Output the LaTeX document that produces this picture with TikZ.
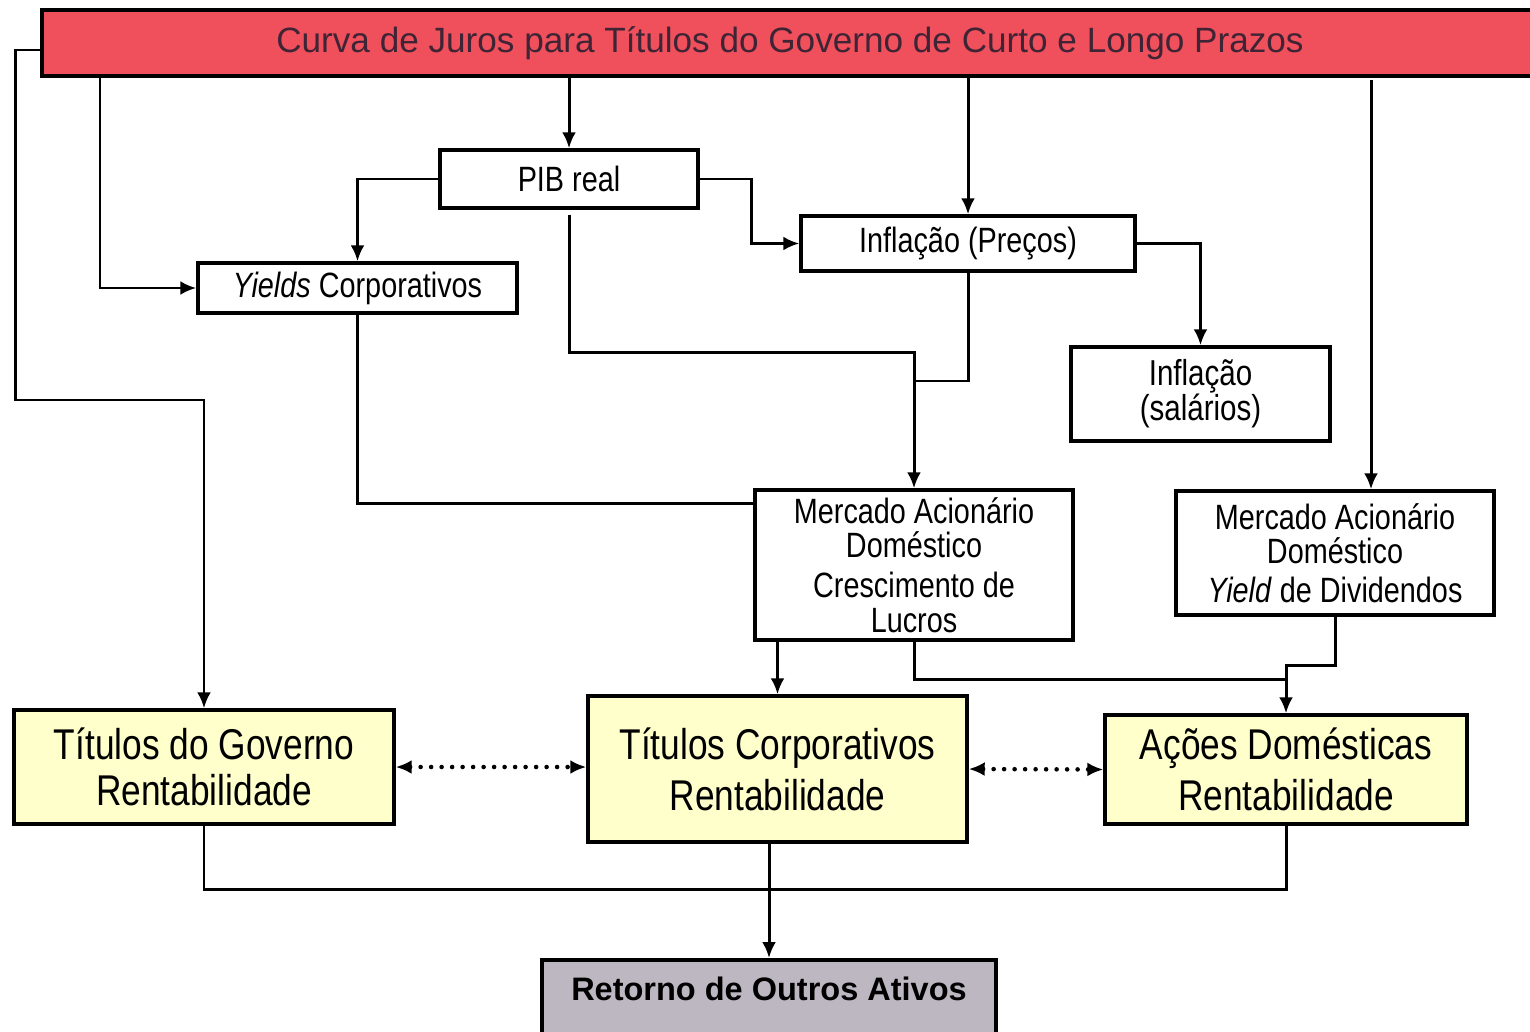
\documentclass[tikz,border=0pt]{standalone}
\usepackage{fontspec}
\setmainfont{Liberation Sans}
\newfontfamily\narrowfont[FakeStretch=0.82]{Liberation Sans}
\usepackage{tikz}
\usetikzlibrary{calc}
\usetikzlibrary{positioning}
\usetikzlibrary{arrows.meta}

\definecolor{barRed}{RGB}{239,80,92}
\definecolor{barText}{RGB}{62,36,52}
\definecolor{paleYellow}{RGB}{255,255,204}
\definecolor{boxGray}{RGB}{189,183,193}

\begin{document}
\begin{tikzpicture} [x=0.02cm, y=-0.02cm, >={Latex[length=0.32cm,width=0.28cm]}, line width=1.7pt]
            % Set primary nodes
            \tikzset{
                titleBar/.style={
                        rectangle,
                        draw,
                        line width=2pt,
                        fill=barRed,
                        text=barText,
                        font=\fontsize{20}{24}\selectfont,
                        minimum width=29.92cm,
                        minimum height=1.32cm
                    }
            }
            \tikzset{
                entity/.style={
                        rectangle,
                        draw,
                        line width=2pt,
                        align=center,
                        inner sep=0pt,
                        font=\narrowfont\fontsize{20}{19.5}\selectfont
                    }
            }
            \tikzset{
                assetNode/.style={
                        entity,
                        fill=paleYellow,
                        font=\narrowfont\fontsize{24.5}{29}\selectfont
                    }
            }
            \tikzset{
                returnNode/.style={
                        rectangle,
                        draw,
                        line width=2pt,
                        fill=boxGray,
                        font=\bfseries\fontsize{18.5}{22}\selectfont,
                        minimum width=9.08cm,
                        minimum height=1.64cm,
                        text depth=0.5cm
                    }
            }
            \tikzset{
                dotArrow/.style={
                        <->,
                        line width=2.6pt,
                        line cap=round,
                        dash pattern=on 0pt off 0.21cm
                    }
            }
            \clip (0,0) rectangle (1530,1031);
            % Placing nodes
            \node[titleBar](bar) at (790,43){Curva de Juros para Títulos do Governo de Curto e Longo Prazos};
            \node[entity, minimum width=5.16cm, minimum height=1.16cm](pib) at (569,179){PIB real};
            \node[entity, minimum width=6.38cm, minimum height=1.0cm](yields) at (357.5,288){\textit{Yields} Corporativos};
            \node[entity, minimum width=6.68cm, minimum height=1.1cm](infl) at (968,243.5){Inflação (Preços)};
            \node[entity, minimum width=5.18cm, minimum height=1.88cm, font=\narrowfont\fontsize{20.5}{20}\selectfont](sal) at (1200.5,394){Inflação\\(salários)};
            \node[entity, minimum width=6.36cm, minimum height=3.0cm](lucros) at (914,565){Mercado Acionário\\Doméstico\\[0.12cm]Crescimento de\\Lucros};
            \node[entity, minimum width=6.36cm, minimum height=2.48cm](divid) at (1335,553){Mercado Acionário\\Doméstico\\[0.1cm]\textit{Yield} de Dividendos};
            \node[assetNode, minimum width=7.6cm, minimum height=2.28cm, font=\narrowfont\fontsize{24.5}{26}\selectfont](gov) at (204,767){Títulos do Governo\\Rentabilidade};
            \node[assetNode, minimum width=7.58cm, minimum height=2.92cm](corp) at (777.5,769){Títulos Corporativos\\Rentabilidade};
            \node[assetNode, minimum width=7.24cm, minimum height=2.18cm](acoes) at (1286,769.5){Ações Domésticas\\Rentabilidade};
            \node[returnNode, anchor=north](ret) at (769,958){Retorno de Outros Ativos};
            \coordinate (barL) at (100,78);
            \coordinate (barR) at (1371,80);
            \coordinate (joinInfl) at (914,381);
            \coordinate (joinDiv) at (1286,665);
            % Placing arrows
            \draw[->]([yshift=-0.14cm]bar.west) -- ++(-25,0) -- ++(0,350) -| (gov.north);
            \draw[->](barL) |- (yields.west);
            \draw[->](bar.south -| pib.north) -- (pib.north);
            \draw[->](bar.south -| infl.north) -- (infl.north);
            \draw[->](barR) -- (barR |- divid.north);
            \draw[->](pib.west) -| (yields.north);
            \draw[->](pib.east) -- ++(52,0) |- (infl.west);
            \draw[->](infl.east) -| (sal.north);
            \draw[->]([yshift=-0.1cm]pib.south) -- ++(0,138) -| (lucros.north);
            \draw(infl.south) |- (joinInfl);
            \draw(yields.south) |- ([yshift=1.24cm]lucros.west);
            \draw[->](corp.north |- lucros.south) -- (corp.north);
            \draw[->](lucros.south) -- ++(0,38) -| (acoes.north);
            \draw(divid.south) |- (joinDiv) -- ++(0,14);
            \draw(gov.south) -- ++(0,64) -| (acoes.south);
            \draw[->](corp.south -| ret.north) -- (ret.north);
            \draw[dotArrow](gov.east) -- (gov.east -| corp.west);
            \draw[dotArrow](corp.east) -- (acoes.west);
        \end{tikzpicture}
\end{document}
